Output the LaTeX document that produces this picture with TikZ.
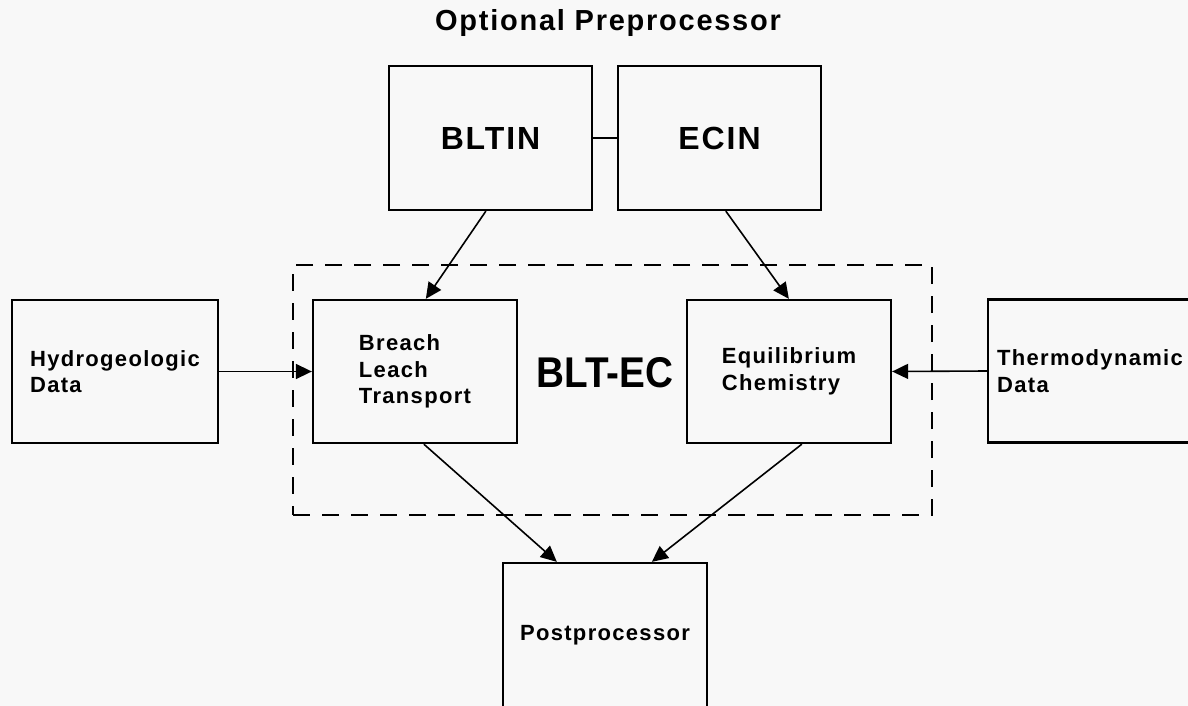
\documentclass[tikz,border=0pt]{standalone}
\usepackage{fontspec}
\usetikzlibrary{arrows.meta,calc}
\newfontfamily\hv{Liberation Sans}[LetterSpace=6]
\newfontfamily\hvn{Liberation Sans}
\definecolor{bg}{HTML}{F8F8F8}
\tikzset{
  box/.style={draw=black, line width=2.3pt, minimum width=204pt, minimum height=143pt, inner sep=0pt, align=left, font=\hv\bfseries\fontsize{22}{26.5}\selectfont},
  bigbox/.style={box, font=\hv\bfseries\fontsize{32}{36}\selectfont},
  conn/.style={line width=1.6pt, -{Triangle[length=16pt,width=15pt]}},
  plain/.style={line width=1.8pt},
  frame/.style={draw=black, line width=1.8pt, dash pattern=on 17pt off 12pt, minimum width=639pt, minimum height=250pt, inner sep=0pt}
}
\begin{document}
\begin{tikzpicture}[x=1pt,y=-1pt]
\clip (0,0) rectangle (1188,706);
\fill[bg] (0,0) rectangle (1188,706);
\node[font=\hv\bfseries\fontsize{29}{34}\selectfont] (title) at (608,23.5) {Optional Preprocessor};
\node[bigbox, minimum width=203pt, minimum height=144pt] (bltin) at (490.5,138) {BLTIN};
\node[bigbox, minimum width=203pt, minimum height=144pt] (ecin) at (719.5,138) {ECIN};
\node[frame] (frame) at (612.5,390) {};
\node[box] (blt) at (415,371.5) {Breach\\Leach\\Transport};
\node[box] (ec) at (789,371.5) {Equilibrium\\Chemistry};
\node[box, minimum width=206pt] (hydro) at (115,371.5) {Hydrogeologic\\Data};
\node[box] (thermo) at (1090,371) {Thermodynamic\\Data};
\node[box, minimum height=144pt] (post) at (605,635) {Postprocessor};
\node[font=\hvn\bfseries\fontsize{43}{48}\selectfont] (label) at (605,372.5) {\scalebox{0.9}[1]{BLT-EC}};
\draw[plain] (bltin.east) -- (ecin.west);
\draw[conn] ($(bltin.south west)+(98,0)$) -- ($(blt.north west)+(114,0)$);
\draw[conn] ($(ecin.south west)+(109,0)$) -- ($(ec.north west)+(103,0)$);
\draw[conn] (hydro.east) -- (blt.west);
\draw[conn] (thermo.west) -- (ec.east);
\draw[conn] ($(blt.south west)+(112,0)$) -- ($(post.north west)+(55,0)$);
\draw[conn] ($(ec.south west)+(116,0)$) -- ($(post.north west)+(150,0)$);
\end{tikzpicture}
\end{document}
